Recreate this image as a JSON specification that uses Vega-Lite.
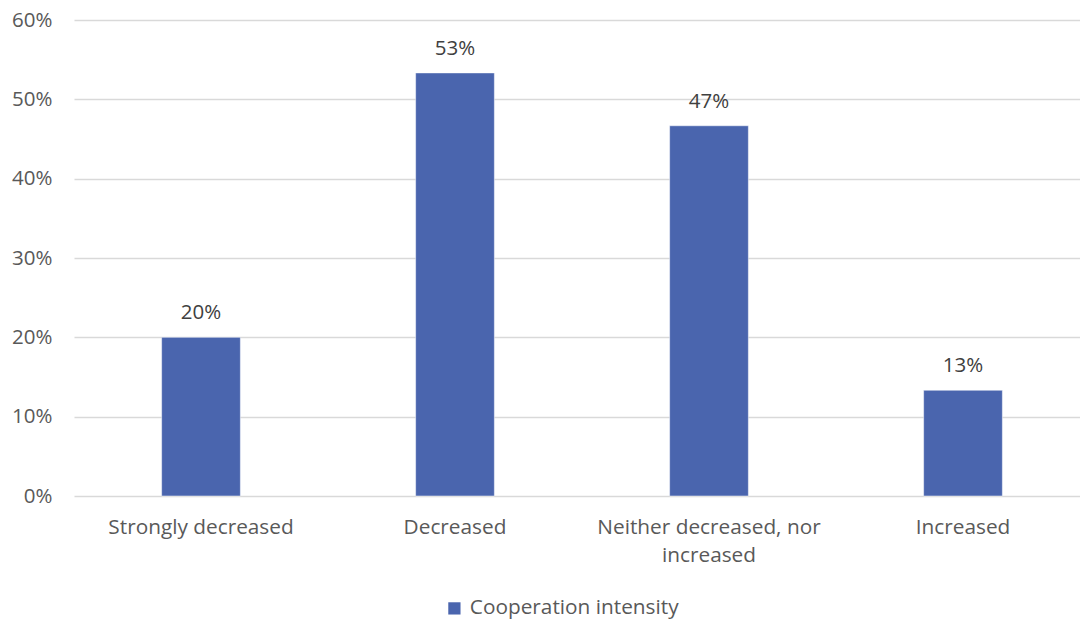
{
  "$schema": "https://vega.github.io/schema/vega-lite/v6.json",
  "width": 1016,
  "height": 476,
  "autosize": {"type": "none"},
  "padding": {"left": 74, "top": 20, "right": 0, "bottom": 127},
  "background": "white",
  "data": {
    "values": [
      {"category": "Strongly decreased", "share": 0.2, "series": "Cooperation intensity"},
      {"category": "Decreased", "share": 0.5333, "series": "Cooperation intensity"},
      {"category": "Neither decreased, nor increased", "share": 0.4667, "series": "Cooperation intensity"},
      {"category": "Increased", "share": 0.1333, "series": "Cooperation intensity"}
    ]
  },
  "encoding": {
    "x": {
      "field": "category",
      "type": "nominal",
      "sort": null,
      "scale": {"paddingInner": 0.69, "paddingOuter": 0.345},
      "axis": {
        "title": null,
        "labelAngle": 0,
        "labelFont": "Open Sans",
        "labelFontSize": 20.8,
        "labelColor": "#595959",
        "labelPadding": 21,
        "labelLineHeight": 28,
        "labelLimit": 400,
        "domain": false,
        "ticks": false,
        "grid": false,
        "labelExpr": "datum.label == 'Neither decreased, nor increased' ? ['Neither decreased, nor', 'increased'] : datum.label"
      }
    },
    "y": {
      "field": "share",
      "type": "quantitative",
      "scale": {"domain": [0, 0.6], "nice": false},
      "axis": {
        "title": null,
        "format": ".0%",
        "values": [0, 0.1, 0.2, 0.3, 0.4, 0.5, 0.6],
        "labelOverlap": false,
        "labelFont": "Open Sans",
        "labelFontSize": 20.5,
        "labelColor": "#595959",
        "labelPadding": 22,
        "domain": false,
        "ticks": false,
        "gridColor": "#d9d9d9",
        "gridWidth": 1.3
      }
    }
  },
  "layer": [
    {
      "mark": {"type": "bar", "stroke": "white", "strokeWidth": 0.5},
      "encoding": {
        "color": {
          "field": "series",
          "type": "nominal",
          "scale": {"range": ["#4a65ae"]},
          "legend": {
            "title": null,
            "orient": "none",
            "legendX": 370,
            "legendY": 578,
            "direction": "horizontal",
            "symbolType": "square",
            "symbolSize": 150,
            "symbolStrokeWidth": 0,
            "labelFont": "Open Sans",
            "labelFontSize": 20.8,
            "labelColor": "#595959",
            "labelOffset": 5,
            "labelLimit": 400
          }
        }
      }
    },
    {
      "mark": {
        "type": "text",
        "baseline": "bottom",
        "dy": -14,
        "font": "Open Sans",
        "fontSize": 20.5,
        "color": "#404040"
      },
      "encoding": {
        "text": {"field": "share", "type": "quantitative", "format": ".0%"}
      }
    }
  ],
  "config": {"view": {"stroke": null}}
}
